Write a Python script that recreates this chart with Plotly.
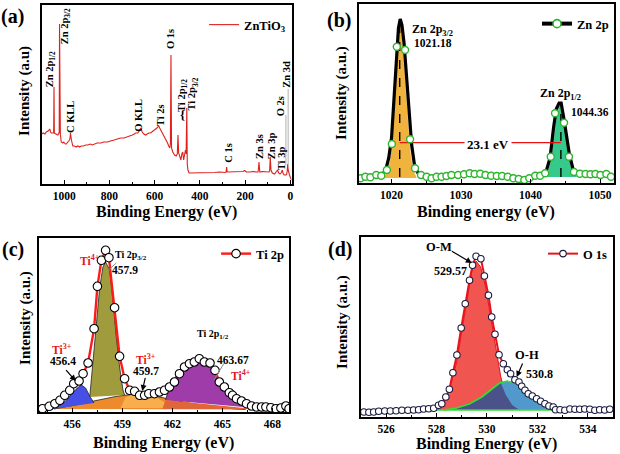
import numpy as np
import plotly.graph_objects as go

FONT = "Times New Roman, Liberation Serif, serif"
W, H = 620, 454

# ---------------- (a) survey spectrum ----------------
a_ev = [1100, 1093, 1085, 1079, 1071, 1064, 1060, 1057, 1050, 1046.5, 1045, 1043.5, 1038, 1035, 1030, 1027.6,
        1023.5, 1022, 1020.6, 1019, 1017, 1013, 1009, 1005.7, 1002, 998.7, 995, 991, 987, 984, 980, 977, 974,
        972.4, 970, 968, 962, 955, 947, 940, 932, 925, 915, 905, 896, 885, 875, 867, 855, 845, 838, 825, 815,
        808, 795, 785, 779, 765, 750, 735, 720, 710, 699, 690, 684, 675, 670, 665, 662, 659, 655, 648, 640, 633,
        626, 618, 611, 604, 596, 590, 585, 582, 578, 573, 568, 562, 556, 550, 543, 538, 533, 530.5, 528, 525.5,
        520, 512, 505, 500, 497, 494, 490, 484, 480, 476, 472, 468, 464, 461, 458, 456, 453, 448, 443, 430, 415,
        399, 385, 365, 350, 333, 315, 300, 288, 284.5, 282, 279.5, 270, 255, 240, 224, 210, 202, 195, 180, 165,
        150, 143, 141, 139, 137, 135, 125, 114, 103, 95, 92, 89, 86, 80, 70, 62, 57, 52, 46, 40, 36, 33, 28, 22,
        17, 14, 12, 10, 7, 4, 1, -2, -5]
a_int = [50, 51, 50, 52, 53, 55, 52, 51, 51, 51, 97, 51, 50, 50, 49, 49,
         51, 51, 160, 51, 50, 42, 41, 41, 42, 41, 40, 40, 41, 41, 43, 44, 46,
         51, 46, 44, 38, 38, 37, 38, 37, 38, 38, 39, 39, 40, 39, 40, 41, 41, 41, 42, 42,
         42, 43, 44, 44, 45, 46, 46, 47, 48, 49, 50, 51, 51, 52, 54, 56, 53, 52, 50, 49, 50,
         51, 51, 52, 53, 55, 56, 57, 58, 56, 54, 52, 49, 46, 44, 41, 38, 36, 40, 129, 36,
         32, 29, 28, 30, 49, 31, 27, 24, 30, 32, 24, 28, 34, 30, 76, 20, 14, 11, 11, 11, 11,
         11, 11.5, 11, 11.5, 11.5, 12, 11.5, 11.5, 12, 17, 12, 12, 12, 12.5, 12, 12.5, 13.5, 12, 12, 12.5,
         12, 12, 16, 22, 16, 12, 12.5, 12.5, 12, 12, 13, 27, 14, 11, 10, 12, 14, 11, 10, 11.5, 14, 11, 9, 9,
         9.5, 13, 20, 14, 9, 9, 7, 5, 4]
a_ticks = [1000, 800, 600, 400, 200, 0]
a_labels = [  # (text, eV, intensity)
    ("Zn 2p<sub>1/2</sub>", 1057, 115), ("Zn 2p<sub>3/2</sub>", 991, 158), ("C KLL", 972, 66.5),
    ("O KLL", 670, 69), ("Ti 2s", 571.5, 69), ("O 1s", 527.6, 145), ("Ti 2p<sub>1/2</sub>", 475, 89),
    ("Ti 2p<sub>3/2</sub>", 428.5, 90), ("C 1s", 277.6, 31), ("Zn 3s", 139, 38), ("Zn 3p", 84.6, 38),
    ("Ti 3p", 40.8, 26), ("O 2s", 40.8, 78), ("Zn 3d", 16.2, 110)]
a_leader_ev = [20, 10]
a_leader_lo = [19, 19]
a_leader_hi = [69, 95]

# ---------------- (b) Zn 2p ----------------
b_env_ev = [1015.3, 1015.9, 1016.6, 1017.3, 1018.0, 1018.7, 1019.2, 1019.6, 1020.0, 1020.4, 1020.7, 1021.0,
            1021.25, 1021.5, 1021.8, 1022.1, 1022.5, 1022.9, 1023.3, 1023.8, 1024.4, 1025.1, 1025.8, 1026.6,
            1027.4, 1028.2, 1029.0, 1029.8, 1030.6, 1031.4, 1032.2, 1033.0, 1033.8, 1034.6, 1035.4, 1036.2,
            1037.0, 1037.8, 1038.6, 1039.4, 1040.2, 1041.0, 1041.7, 1042.3, 1042.8, 1043.3, 1043.7, 1044.1,
            1044.4, 1044.8, 1045.2, 1045.6, 1046.1, 1046.7, 1047.4, 1048.2, 1049.0, 1049.8, 1050.6, 1051.4, 1052]
b_env_int = [4, 6, 5, 7, 7, 8, 14, 25, 45, 85, 125, 155, 164, 158, 140, 110, 70, 38, 18, 10,
             7, 6, 5, 6, 6, 7, 7, 8, 9, 9, 9, 8, 7, 7, 6, 6, 5, 4, 3, 3,
             5, 6, 8, 13, 25, 55, 74, 80, 80, 64, 48, 28, 14, 10, 9, 8, 9, 8, 8, 7, 6]
b_pts_ev = [1015.53, 1016.24, 1016.96, 1017.81, 1018.53, 1019.33, 1020.05, 1020.76, 1021.95, 1022.67, 1023.38,
            1024.24, 1025.05, 1025.76, 1026.48, 1027.19, 1027.9, 1028.62, 1029.57, 1030.43, 1031.24, 1031.95,
            1032.76, 1033.52, 1034.33, 1035.14, 1035.9, 1036.71, 1037.52, 1038.29, 1039.1, 1039.81, 1040.67,
            1041.38, 1042.1, 1042.9, 1043.52, 1044.81, 1045.52, 1046.24, 1047.1, 1047.9, 1048.62, 1049.33,
            1050.05, 1050.9, 1051.57]
b_pts_int = [4.7, 6.3, 5.7, 8, 7.3, 13, 39, 136.3, 133, 43.7, 14.7,
             8, 6.3, 4.7, 6.3, 6.3, 7, 8, 8, 8.7, 9.7, 9,
             9.3, 8, 7.3, 7, 7, 6.3, 4.7, 4, 3, 4.7, 7.3,
             7.3, 9.7, 26.3, 69.7, 60.3, 26.3, 11, 9.3, 9, 8.7, 9,
             8, 9, 6.3]
b_p32_ev = [1018.8, 1019.3, 1019.8, 1020.2, 1020.5, 1020.8, 1021.0, 1021.18, 1021.4, 1021.6, 1021.9, 1022.3,
            1022.7, 1023.1, 1023.6]
b_p32_int = [5, 9, 22, 50, 88, 128, 150, 158, 152, 138, 110, 65, 30, 13, 5]
b_p12_ev = [1042.0, 1042.5, 1043.0, 1043.4, 1043.8, 1044.1, 1044.36, 1044.6, 1044.9, 1045.3, 1045.7, 1046.2, 1046.7]
b_p12_int = [6, 10, 25, 48, 68, 76, 78, 74, 62, 38, 18, 9, 6]
b_centers = [1021.18, 1044.36]
b_dash_lo = [6, 6]
b_dash_hi = [156, 73]
b_split_level = 40.3
b_ticks = [1020, 1030, 1040, 1050]

# ---------------- (c) Ti 2p ----------------
c_ev = [454.22, 454.62, 454.96, 455.26, 455.55, 455.85, 456.09, 456.41, 456.65, 456.95,
        457.31, 457.51, 457.75, 458.0, 458.2, 458.54, 458.84, 459.14, 459.44, 459.74,
        460.04, 460.34, 460.59, 460.93, 461.23, 461.53, 461.83, 462.13, 462.43, 462.73,
        463.03, 463.32, 463.62, 463.92, 464.26, 464.56, 464.82, 465.12, 465.42, 465.61,
        465.85, 466.15, 466.45, 466.75, 467.05, 467.35, 467.61, 467.91, 468.21, 468.51,
        468.81, 469.0]
c_int = [3.3, 5.7, 8.3, 11.7, 16.7, 21.7, 28.3, 31, 38.3, 49,
         83.3, 125.7, 151.7, 161.7, 154.3, 104.3, 55.7, 33.3, 21.7, 20.7,
         16.7, 16.7, 18.3, 18.3, 20, 21.7, 25, 30, 38.3, 45,
         48.3, 50, 53.3, 50, 49, 41.7, 30, 25, 19.3, 16.7,
         13.3, 11, 8.3, 6, 5, 5, 5, 4.3, 3.3, 4,
         6, 3.3]
c_orange_ev = [454.9, 455.5, 456.2, 457.0, 457.8, 458.6, 459.3, 459.8, 460.4, 461.1, 461.8, 462.6, 463.4,
               464.2, 465.0, 465.8, 466.4]
c_orange_int = [3, 4.5, 7, 10, 13, 15.5, 17, 17.5, 17, 15.5, 13, 10, 7.5, 5.5, 4, 3, 2.5]
c_light_ev = [458.9, 459.2, 459.6, 460.1, 460.6, 461.1, 461.5, 461.8]
c_light_int = [4, 15, 17.3, 17.5, 16.5, 14, 10, 4]
c_redor_ev = [461.4, 461.6, 466.9]
c_redor_int = [3, 12, 3]
c_blue_ev = [454.8, 455.2, 455.6, 456.0, 456.3, 456.55, 456.8, 457.05, 457.3]
c_blue_int = [3, 6, 11, 18, 24, 27, 24, 16, 9]
c_olive_ev = [457.05, 457.25, 457.45, 457.65, 457.84, 458.0, 458.24, 458.44, 458.64, 458.84, 459.04, 459.14]
c_olive_int = [15, 52, 92, 125, 145, 150, 142, 112, 75, 45, 22, 17]
c_purple_ev = [461.6, 461.75, 462.1, 462.4, 462.7, 463.0, 463.3, 463.67, 464.0, 464.4, 464.8, 465.1, 465.4,
               465.7, 466.0, 466.5, 466.9]
c_purple_int = [12, 21, 33, 40, 45, 47.5, 48.5, 49, 48, 43, 32, 25, 20, 15, 11.5, 6.5, 4]
c_ticks = [456, 459, 462, 465, 468]

# ---------------- (d) O 1s ----------------
d_ev = [525.12, 525.32, 525.51, 525.71, 525.95, 526.17, 526.4, 526.63, 526.87, 527.09,
        527.29, 527.49, 527.69, 527.89, 528.08, 528.21, 528.37, 528.51, 528.65, 528.81,
        528.98, 529.14, 529.31, 529.43, 529.57, 529.76, 529.9, 530.06, 530.19, 530.32,
        530.48, 530.65, 530.81, 530.94, 531.11, 531.27, 531.38, 531.51, 531.64, 531.8,
        531.97, 532.13, 532.3, 532.46, 532.63, 532.72, 532.9, 533.09, 533.29, 533.49,
        533.68, 533.88, 534.08, 534.28, 534.47, 534.67, 534.87]
d_int = [5, 4.7, 5, 5.7, 6, 6, 6.3, 6.7, 6.7, 7,
         7.3, 8, 8.3, 8.7, 11.7, 13.3, 20, 27.7, 44.3, 62,
         89, 113.3, 136.7, 151.7, 160.7, 158.3, 141, 121.7, 100, 82.7,
         62.3, 53.3, 47.3, 43.3, 37.3, 35, 30.7, 26.7, 23.3, 21,
         18.3, 15.7, 13.3, 11, 10, 7.3, 7.3, 6.7, 8, 7.7,
         7.7, 8, 7.7, 6.7, 7.3, 7, 7.7]
d_om_ev = [527.9, 528.2, 528.5, 528.8, 529.0, 529.2, 529.4, 529.57, 529.75, 529.95, 530.15, 530.35, 530.55,
           530.75, 531.0, 531.3]
d_om_int = [7, 12, 26, 55, 85, 118, 146, 156, 150, 130, 100, 68, 40, 22, 12, 7]
d_oh_ev = [528.3, 528.8, 529.3, 529.8, 530.2, 530.5, 530.8, 531.1, 531.4, 531.7, 532.0, 532.3, 532.6, 532.8]
d_oh_int = [7, 9, 13, 20, 28, 34, 36, 34, 28, 21, 15, 11, 8, 7]
d_base_ev = [525, 535]
d_base_int = [7, 7]
d_ticks = [526, 528, 530, 532, 534]

# ---------------- figure ----------------
fig = go.Figure()

def sc(**kw):
    fig.add_trace(go.Scatter(**kw))

# (a)
sc(x=a_ev, y=a_int, mode="lines", line=dict(color="#E0201B", width=1.1), name="ZnTiO<sub>3</sub>",
   xaxis="x", yaxis="y", legend="legend")
for xv, lo, hi in zip(a_leader_ev, a_leader_lo, a_leader_hi):
    sc(x=[xv, xv], y=[lo, hi], mode="lines", line=dict(color="#B0B0B0", width=1), showlegend=False,
       xaxis="x", yaxis="y", hoverinfo="skip")

# (b)
sc(x=b_p32_ev, y=b_p32_int, fill="toself", fillcolor="#F0B43E", mode="lines", line=dict(color="#F0B43E", width=0.5),
   showlegend=False, xaxis="x2", yaxis="y2")
sc(x=b_p12_ev, y=b_p12_int, fill="toself", fillcolor="#35C98C", mode="lines", line=dict(color="#35C98C", width=0.5),
   showlegend=False, xaxis="x2", yaxis="y2")
sc(x=b_env_ev, y=b_env_int, mode="lines", line=dict(color="black", width=3.2), showlegend=False,
   xaxis="x2", yaxis="y2")
for xc, lo, hi in zip(b_centers, b_dash_lo, b_dash_hi):
    sc(x=[xc, xc], y=[lo, hi], mode="lines", line=dict(color="black", width=1.4, dash="dash"),
       showlegend=False, xaxis="x2", yaxis="y2")
sc(x=b_centers, y=[b_split_level, b_split_level], mode="lines", line=dict(color="#EE1111", width=1.2),
   showlegend=False, xaxis="x2", yaxis="y2")
sc(x=b_pts_ev, y=b_pts_int, mode="markers",
   marker=dict(symbol="circle", size=7, color="white", line=dict(color="#2DB52D", width=1.4)),
   showlegend=False, xaxis="x2", yaxis="y2")
sc(x=[None], y=[None], mode="lines+markers", line=dict(color="black", width=4),
   marker=dict(symbol="circle", size=8, color="white", line=dict(color="#2DB52D", width=1.6)),
   name="Zn 2p", xaxis="x2", yaxis="y2", legend="legend2")

# (c)
comp_line = dict(color="#222222", width=0.8)
sc(x=c_orange_ev, y=c_orange_int, fill="toself", fillcolor="#EC8A2C", mode="lines", line=comp_line,
   showlegend=False, xaxis="x3", yaxis="y3")
sc(x=c_light_ev, y=c_light_int, fill="toself", fillcolor="#F8AE4C", mode="lines", line=dict(width=0),
   showlegend=False, xaxis="x3", yaxis="y3")
sc(x=c_redor_ev, y=c_redor_int, fill="toself", fillcolor="#E0663A", mode="lines", line=dict(width=0),
   showlegend=False, xaxis="x3", yaxis="y3")
sc(x=c_blue_ev, y=c_blue_int, fill="toself", fillcolor="#4650E6", mode="lines", line=comp_line,
   showlegend=False, xaxis="x3", yaxis="y3")
sc(x=c_olive_ev, y=c_olive_int, fill="toself", fillcolor="#A09B3C", mode="lines", line=comp_line,
   showlegend=False, xaxis="x3", yaxis="y3")
sc(x=c_purple_ev, y=c_purple_int, fill="toself", fillcolor="#A03CAA", mode="lines", line=comp_line,
   showlegend=False, xaxis="x3", yaxis="y3")
sc(x=c_ev, y=c_int, mode="lines+markers", line=dict(color="#FF1A1A", width=2.4),
   marker=dict(symbol="circle", size=8.5, color="white", line=dict(color="black", width=1.1)),
   name="Ti 2p", xaxis="x3", yaxis="y3", legend="legend3")

# (d)
grid = np.union1d(d_om_ev, d_oh_ev)
grid = grid[(grid >= max(d_om_ev[0], d_oh_ev[0])) & (grid <= min(d_om_ev[-1], d_oh_ev[-1]))]
ov_int = np.minimum(np.interp(grid, d_om_ev, d_om_int), np.interp(grid, d_oh_ev, d_oh_int))
sc(x=d_om_ev, y=d_om_int, fill="toself", fillcolor="#F05550", mode="lines", line=dict(color="#E8141B", width=1),
   showlegend=False, xaxis="x4", yaxis="y4")
sc(x=d_oh_ev, y=d_oh_int, fill="toself", fillcolor="#5199CC", mode="lines", line=dict(width=0),
   showlegend=False, xaxis="x4", yaxis="y4")
sc(x=grid, y=ov_int, fill="toself", fillcolor="#4B5189", mode="lines", line=dict(width=0),
   showlegend=False, xaxis="x4", yaxis="y4")
sc(x=d_oh_ev, y=d_oh_int, mode="lines", line=dict(color="#33DD33", width=1.6),
   showlegend=False, xaxis="x4", yaxis="y4")
sc(x=d_base_ev, y=d_base_int, mode="lines", line=dict(color="#33DD33", width=1.6),
   showlegend=False, xaxis="x4", yaxis="y4")
sc(x=d_ev, y=d_int, mode="lines+markers", line=dict(color="#E8141B", width=2),
   marker=dict(symbol="circle", size=6.5, color="white", line=dict(color="#1B1B40", width=1.1)),
   name="O 1s", xaxis="x4", yaxis="y4", legend="legend4")

# ---------------- axes ----------------
def dx(l, r):
    return [l / W, r / W]

def dy(t, b):
    return [1 - b / H, 1 - t / H]

tickfont = dict(family=FONT, size=11.5, color="black", weight="bold")
base_ax = dict(showline=True, linecolor="black", linewidth=1.7, mirror=True, showgrid=False, zeroline=False)

def xax(domain, rng, ticks, minor, anchor):
    return dict(base_ax, domain=domain, range=rng, tickmode="array", tickvals=ticks, ticks="inside",
                ticklen=4, tickwidth=1.3, tickcolor="black", tickfont=tickfont, anchor=anchor,
                minor=dict(dtick=minor, ticks="inside", ticklen=2.5, tickwidth=1, tickcolor="black"))

def yax(domain, rng, anchor):
    return dict(base_ax, domain=domain, range=rng, showticklabels=False, ticks="", anchor=anchor)

fig.update_layout(
    width=W, height=H, margin=dict(l=0, r=0, t=0, b=0),
    paper_bgcolor="white", plot_bgcolor="white",
    font=dict(family=FONT),
    xaxis=xax(dx(41.7, 292.5), [1100, -5], a_ticks, 100, "y"),
    yaxis=yax(dy(5, 184), [0, 179], "x"),
    xaxis2=xax(dx(360, 616), [1015.3, 1052], b_ticks, 5, "y2"),
    yaxis2=yax(dy(4, 183), [0, 179], "x2"),
    xaxis3=xax(dx(39, 290), [454, 469], c_ticks, 1.5, "y3"),
    yaxis3=yax(dy(238, 412), [0, 174], "x3"),
    xaxis4=xax(dx(362, 615), [525, 535], d_ticks, 1, "y4"),
    yaxis4=yax(dy(237, 417), [0, 180], "x4"),
    showlegend=True,
)

leg_font = dict(family=FONT, size=12.5, color="black", weight="bold")
def leg(right_px, top_px):
    return dict(x=right_px / W, xanchor="right", y=1 - top_px / H, yanchor="top", bgcolor="rgba(0,0,0,0)",
                font=leg_font, itemwidth=30, borderwidth=0)

fig.update_layout(legend=leg(292, 10), legend2=leg(616, 9), legend3=leg(290, 239), legend4=leg(615, 239))

anns = []

def A(text, x, y, xref="paper", yref="paper", size=11, color="black", angle=0, **kw):
    d = dict(text="<b>" + text + "</b>", x=x, y=y, xref=xref, yref=yref, showarrow=False, textangle=angle,
             font=dict(family=FONT, size=size, color=color), xanchor="center", yanchor="middle")
    d.update(kw)
    anns.append(d)

def P(px, py, text, size, angle=0, **kw):
    A(text, px / W, 1 - py / H, size=size, angle=angle, **kw)

# panel letters
P(13, 17, "(a)", 20)
P(340, 20, "(b)", 20)
P(13, 250, "(c)", 20)
P(341, 249, "(d)", 20)
# axis titles
P(167, 212, "Binding Energy (eV)", 16)
P(488, 212, "Binding energy (eV)", 16)
P(164.5, 443, "Binding Energy (eV)", 16)
P(488.5, 443.5, "Binding Energy (eV)", 16)
P(24, 91, "Intensity (a.u)", 15, angle=-90)
P(342, 93, "Intensity (a.u.)", 15, angle=-90)
P(25, 318, "Intensity (a.u.)", 15, angle=-90)
P(343, 322, "Intensity (a.u.)", 15, angle=-90)

# (a) peak labels
for t, xv, yv in a_labels:
    A(t, xv, yv, "x", "y", size=10.5, angle=-90)
A("{", 479, 69, "x", "y", size=13)

# (b) labels
A("Zn 2p<sub>3/2</sub>", 1022.67, 153, "x2", "y2", size=12, xanchor="left")
A("1021.18", 1022.9, 140, "x2", "y2", size=11.5, xanchor="left")
A("Zn 2p<sub>1/2</sub>", 1044.33, 88.7, "x2", "y2", size=12)
A("1044.36", 1045.53, 71.3, "x2", "y2", size=11.5, xanchor="left")
A("23.1 eV", 1033.86, 38.7, "x2", "y2", size=13, bgcolor="white", borderpad=2)

# (c) labels
red = "#E8141B"
A("Ti<sup>4+</sup>", 457.05, 151.7, "x3", "y3", size=11.5, color=red)
A("Ti 2p<sub>3/2</sub>", 459.54, 156.7, "x3", "y3", size=10)
A("457.9", 459.14, 142.3, "x3", "y3", size=11.5)
A("Ti<sup>3+</sup>", 455.36, 63.3, "x3", "y3", size=11.5, color=red)
A("456.4", 455.45, 50.7, "x3", "y3", size=11.5)
A("Ti<sup>3+</sup>", 460.44, 53.3, "x3", "y3", size=11.5, color=red)
A("459.7", 460.44, 41, "x3", "y3", size=11.5)
A("Ti 2p<sub>1/2</sub>", 464.42, 77.7, "x3", "y3", size=10)
A("463.67", 465.61, 52.3, "x3", "y3", size=11.5)
A("Ti<sup>4+</sup>", 466.12, 36.7, "x3", "y3", size=11.5, color=red)

# (d) labels
A("O-M", 528.08, 170, "x4", "y4", size=12.5)
A("529.57", 528.55, 145.7, "x4", "y4", size=12)
A("O-H", 531.57, 61.7, "x4", "y4", size=12.5)
A("530.8", 532.1, 43.3, "x4", "y4", size=12)

def arrow(x, y, ax, ay, xr, yr):
    anns.append(dict(text="", x=x, y=y, ax=ax, ay=ay, xref=xr, yref=yr, axref=xr, ayref=yr,
                     showarrow=True, arrowhead=2, arrowsize=1, arrowwidth=1.2, arrowcolor="black"))

arrow(456.21, 31, 455.55, 43.3, "x3", "y3")
arrow(460.2, 21, 460.4, 35.7, "x3", "y3")
arrow(529.4, 154, 528.55, 166.7, "x4", "y4")
arrow(531.18, 40, 531.44, 55, "x4", "y4")

fig.update_layout(annotations=anns)

# leader lines in (c)
fig.add_shape(type="line", x0=458.64, y0=149, x1=458.2, y1=142.3, xref="x3", yref="y3",
              line=dict(color="#888888", width=1))
fig.add_shape(type="line", x0=465.1, y0=48.7, x1=464.5, y1=32, xref="x3", yref="y3",
              line=dict(color="#888888", width=1))

fig.write_html("out.html", config={"displayModeBar": False},
               post_script="document.body.style.margin='0px';document.body.style.overflow='hidden';")
